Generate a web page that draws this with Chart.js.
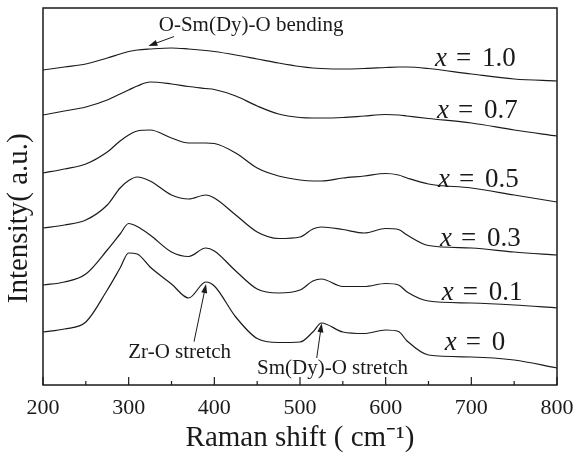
<!DOCTYPE html>
<html>
<head>
<meta charset="utf-8">
<script src="https://cdn.jsdelivr.net/npm/chart.js@4.4.1/dist/chart.umd.min.js"></script>
<style>
  html, body { margin: 0; padding: 0; background: #fff; }
  #ramanChart { display: block; }
</style>
</head>
<body>
<canvas id="ramanChart" width="574" height="458"></canvas>
<script>
// ==========================================
// RAMAN SPECTRA, stacked (Chart.js)
// ==========================================

// Raman shift (cm-1) sample points shared by all spectra
const ramanShift = [200, 225, 250, 275, 290, 300, 310, 325, 350, 370, 390, 400, 425, 450,
  475, 500, 515, 525, 550, 575, 600, 615, 625, 650, 700, 750, 800];

// Intensity (a.u., curves offset vertically)
const spectrumX0 = [53, 56, 63, 95, 117, 132, 131, 118, 101, 87, 103, 99, 68, 46.5,
  42.5, 43, 53, 62, 53, 51.5, 55, 53.5, 44, 30, 28, 25, 17];
const spectrumX01 = [100, 103, 111, 135, 151, 161.5, 158.5, 150, 133, 128.5, 137, 134, 114, 96,
  92, 95, 104, 106, 98.5, 98.5, 101.5, 100, 93, 84, 82, 80, 77];
const spectrumX03 = [157, 160, 165, 180, 197, 204.5, 208, 204, 190, 186, 190, 187, 170, 153,
  146.5, 148, 156, 158, 155.5, 152, 156.5, 155.5, 150, 139.5, 137, 133, 130];
const spectrumX05 = [212, 216, 221, 233, 244, 250, 254, 255, 247, 242, 242, 241.5, 232, 217,
  209, 205, 204, 204, 207, 209, 211.5, 210, 207, 201, 197, 190, 183];
const spectrumX07 = [270, 274, 278, 285, 291, 295, 299, 303, 301, 298.5, 296.5, 295.5, 289, 279,
  271, 267.5, 267, 267, 267.5, 269, 270.5, 270, 269, 266.5, 262, 255, 249];
const spectrumX10 = [315, 318, 321, 327, 331, 333.5, 335, 336, 337, 336, 334.5, 333.5, 330, 326,
  322, 318.5, 317, 316.5, 316, 316.5, 317.5, 318, 318, 316.5, 311, 306, 304];

const compositions = ['0', '0.1', '0.3', '0.5', '0.7', '1.0'];
const spectra = [spectrumX0, spectrumX01, spectrumX03, spectrumX05, spectrumX07, spectrumX10];

const xMin = 200;
const xMax = 800;

const FONT = '"Liberation Serif", "Times New Roman", serif';
const INK = '#1a1a1a';

// label anchors in data units (left edge of "x", vertical middle)
const compositionLabelPos = [
  { x: 669, y: 42.5 },
  { x: 665.5, y: 92 },
  { x: 663.5, y: 146.5 },
  { x: 661, y: 205.5 },
  { x: 660, y: 274 },
  { x: 657.5, y: 326.5 },
];

// band assignments: text centre and arrow (tail -> tip), data units
const bandNotes = [
  { text: 'O-Sm(Dy)-O bending', x: 443, y: 359.5, tail: [353, 348.5], tip: [323, 339] },
  { text: 'Zr-O stretch', x: 359.5, y: 32.5, tail: [376.3, 43.3], tip: [390.3, 101] },
  { text: 'Sm(Dy)-O stretch', x: 538, y: 16.3, tail: [519.5, 27], tip: [525.3, 61.7] },
];

function drawArrow(ctx, x1, y1, x2, y2) {
  const ang = Math.atan2(y2 - y1, x2 - x1);
  const len = 9;
  const half = 3;
  ctx.beginPath();
  ctx.moveTo(x1, y1);
  ctx.lineTo(x2 - Math.cos(ang) * len * 0.6, y2 - Math.sin(ang) * len * 0.6);
  ctx.stroke();
  ctx.beginPath();
  ctx.moveTo(x2, y2);
  ctx.lineTo(x2 - Math.cos(ang) * len - Math.sin(ang) * half, y2 - Math.sin(ang) * len + Math.cos(ang) * half);
  ctx.lineTo(x2 - Math.cos(ang) * len + Math.sin(ang) * half, y2 - Math.sin(ang) * len - Math.cos(ang) * half);
  ctx.closePath();
  ctx.fill();
}

const frameAndNotes = {
  id: 'frameAndNotes',
  afterDatasetsDraw(chart) {
    const { ctx, chartArea: a, scales: { x, y } } = chart;
    ctx.save();
    ctx.strokeStyle = INK;
    ctx.fillStyle = INK;

    // plot frame
    ctx.lineWidth = 1.5;
    ctx.strokeRect(a.left, a.top, a.right - a.left, a.bottom - a.top);

    // inward tick marks on the bottom axis
    ctx.lineWidth = 1.2;
    x.ticks.forEach(function (t) {
      const px = x.getPixelForValue(t.value);
      const len = t.value % 100 === 0 ? 8 : 4;
      ctx.beginPath();
      ctx.moveTo(px, a.bottom);
      ctx.lineTo(px, a.bottom - len);
      ctx.stroke();
    });

    // composition labels  "x = ..."
    ctx.textBaseline = 'middle';
    ctx.textAlign = 'left';
    compositions.forEach(function (c, i) {
      const p = compositionLabelPos[i];
      const px = x.getPixelForValue(p.x);
      const py = y.getPixelForValue(p.y);
      ctx.font = 'italic 27px ' + FONT;
      ctx.fillText('x', px, py);
      ctx.font = '27px ' + FONT;
      ctx.fillText('=', px + 21, py);
      ctx.fillText(c, px + 47, py);
    });

    // band assignments
    ctx.font = '21px ' + FONT;
    ctx.textAlign = 'center';
    ctx.lineWidth = 1;
    bandNotes.forEach(function (n) {
      ctx.fillText(n.text, x.getPixelForValue(n.x), y.getPixelForValue(n.y));
      drawArrow(ctx,
        x.getPixelForValue(n.tail[0]), y.getPixelForValue(n.tail[1]),
        x.getPixelForValue(n.tip[0]), y.getPixelForValue(n.tip[1]));
    });
    ctx.restore();
  },
};

const ramanData = {
  datasets: spectra.map(function (s, i) {
    return {
      label: 'x = ' + compositions[i],
      data: ramanShift.map(function (v, k) { return { x: v, y: s[k] }; }),
      borderColor: INK,
      borderWidth: 1.2,
      pointRadius: 0,
      fill: false,
      cubicInterpolationMode: 'monotone',
    };
  }),
};

const ramanConfig = {
  type: 'line',
  data: ramanData,
  options: {
    responsive: false,
    animation: false,
    devicePixelRatio: 1,
    layout: { padding: { top: 8, right: 0, left: 0, bottom: 0 } },
    plugins: {
      legend: { display: false },
      tooltip: { enabled: false },
    },
    scales: {
      x: {
        type: 'linear',
        min: xMin,
        max: xMax,
        grid: { display: false },
        border: { display: false },
        ticks: {
          stepSize: 50,
          padding: 2,
          maxRotation: 0,
          autoSkip: false,
          color: INK,
          font: { family: FONT, size: 22 },
          callback: function (value) {
            return value % 100 === 0 ? String(value) : '';
          },
        },
        title: {
          display: true,
          text: 'Raman shift ( cm\u207B\u00B9)',
          color: INK,
          font: { family: FONT, size: 29, lineHeight: 1 },
          padding: { top: 0, bottom: 5 },
        },
        afterFit: function (scale) {
          scale.height = 73;
          scale.paddingLeft = 0;
          scale.paddingRight = 17;
        },
      },
      y: {
        min: 0,
        max: 377,
        grid: { display: false },
        border: { display: false },
        ticks: { display: false },
        title: {
          display: true,
          text: 'Intensity( a.u.)      ',
          color: INK,
          font: { family: FONT, size: 29, lineHeight: 1 },
          padding: { top: 5, bottom: 0 },
        },
        afterFit: function (scale) { scale.width = 43; },
      },
    },
  },
  plugins: [frameAndNotes],
};

const ramanChart = new Chart(document.getElementById('ramanChart'), ramanConfig);
</script>
</body>
</html>
